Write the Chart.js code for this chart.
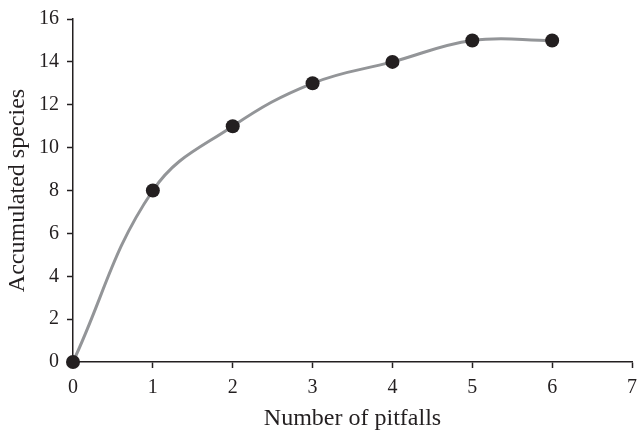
<!DOCTYPE html>
<html>
<head>
<meta charset="utf-8">
<script src="https://cdn.jsdelivr.net/npm/chart.js@4"></script>
<style>
  html, body { margin: 0; padding: 0; background: #fff; }
  .chart-container { width: 637px; height: 431px; }
</style>
</head>
<body>
<div class="chart-container"><canvas id="pitfalls" width="637" height="431"></canvas></div>
<script>
const pitfalls = [0, 1, 2, 3, 4, 5, 6];
const species = [0, 8, 11, 13, 14, 15, 15];
const xTicks = [0, 1, 2, 3, 4, 5, 6, 7];
const yTicks = [0, 2, 4, 6, 8, 10, 12, 14, 16];

const ink = '#231f20';
const serif = 'Liberation Serif, Times New Roman, serif';

const points = pitfalls.map((p, i) => ({ x: p, y: species[i] }));

new Chart(document.getElementById('pitfalls'), {
  type: 'line',
  data: {
    datasets: [{
      data: points,
      borderColor: '#939598',
      borderWidth: 3,
      tension: 0.4,
      pointRadius: 7,
      pointBackgroundColor: ink,
      pointBorderColor: ink,
      pointBorderWidth: 0,
      clip: false
    }]
  },
  options: {
    responsive: false,
    animation: false,
    layout: {
      autoPadding: false,
      padding: { top: 19, right: 5, left: 0, bottom: 0 }
    },
    plugins: {
      legend: { display: false },
      tooltip: { enabled: false }
    },
    scales: {
      x: {
        type: 'linear',
        min: 0,
        max: 7,
        afterBuildTicks: function (scale) {
          scale.ticks = xTicks.map(v => ({ value: v }));
        },
        afterFit: function (scale) {
          scale.height = 69;
          scale.paddingLeft = 0;
          scale.paddingRight = 0;
        },
        grid: { drawOnChartArea: false, drawTicks: true, tickLength: 6, tickWidth: 1.5, color: ink },
        border: { display: true, color: ink, width: 1.5 },
        ticks: { color: ink, font: { family: serif, size: 20 }, padding: 8, maxRotation: 0 },
        title: { display: true, text: 'Number of pitfalls', color: ink, font: { family: serif, size: 24 }, padding: { top: 0, bottom: -2 } }
      },
      y: {
        type: 'linear',
        min: 0,
        max: 16,
        afterBuildTicks: function (scale) {
          scale.ticks = yTicks.map(v => ({ value: v }));
        },
        afterFit: function (scale) {
          scale.width = 73;
          scale.paddingTop = 0;
          scale.paddingBottom = 0;
        },
        grid: { drawOnChartArea: false, drawTicks: true, tickLength: 6, tickWidth: 1.5, color: ink },
        border: { display: true, color: ink, width: 1.5 },
        ticks: { color: ink, font: { family: serif, size: 20 }, padding: 8 },
        title: { display: true, text: 'Accumulated species', color: ink, font: { family: serif, size: 24 }, padding: { top: 3, bottom: 0 } }
      }
    }
  }
});
</script>
</body>
</html>
